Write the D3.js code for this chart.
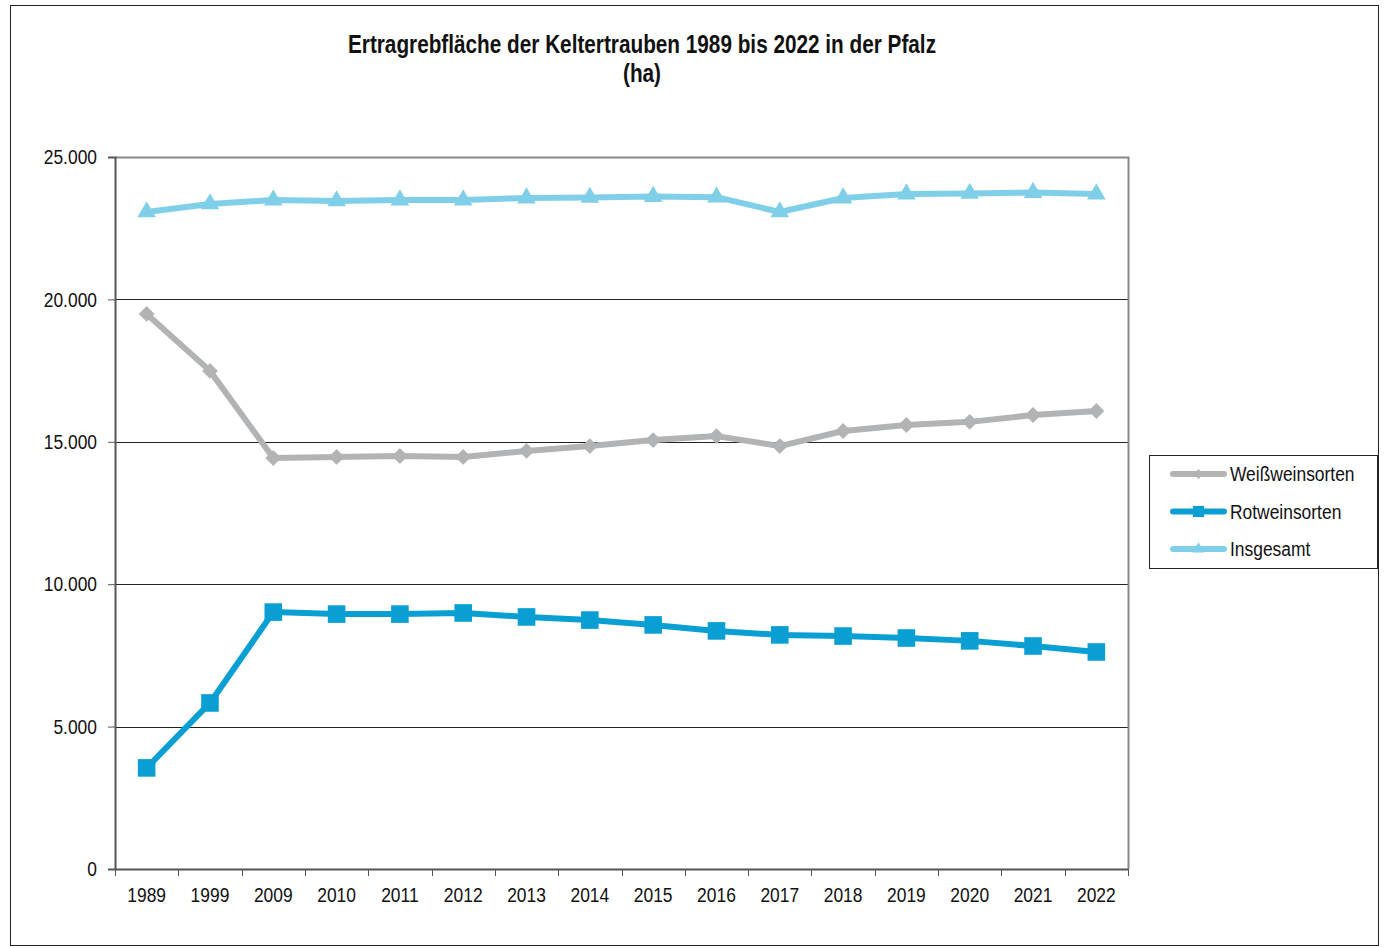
<!DOCTYPE html>
<html>
<head>
<meta charset="utf-8">
<script src="https://cdn.jsdelivr.net/npm/d3@7"></script>
<style>
  body { margin: 0; background: #fff; }
  svg { display: block; font-family: "Liberation Sans", Arial, sans-serif; }
</style>
</head>
<body>
<svg id="chart" width="1384" height="948"></svg>
<script>
const years = ['1989', '1999', '2009', '2010', '2011', '2012', '2013', '2014', '2015', '2016', '2017', '2018', '2019', '2020', '2021', '2022'];
const weiss = [19490, 17490, 14430, 14470, 14500, 14470, 14680, 14850, 15060, 15200, 14850, 15380, 15590, 15700, 15940, 16080];
const rot = [3550, 5830, 9020, 8950, 8950, 8990, 8850, 8740, 8570, 8360, 8220, 8180, 8110, 8010, 7830, 7620];
const gesamt = [23070, 23350, 23490, 23455, 23490, 23490, 23560, 23580, 23610, 23590, 23070, 23560, 23700, 23720, 23750, 23700];
const yTicks = [0, 5000, 10000, 15000, 20000, 25000];
const title = ['Ertragrebfläche der Keltertrauben 1989 bis 2022 in der Pfalz', '(ha)'];

const series = [
  { name: 'Weißweinsorten', values: weiss, color: '#b2b3b5', symbol: d3.symbolDiamond2, size: 160 },
  { name: 'Rotweinsorten', values: rot, color: '#0a9fd3', symbol: d3.symbolSquare, size: 310 },
  { name: 'Insgesamt', values: gesamt, color: '#80cfe8', symbol: d3.symbolTriangle, size: 150 }
];

const margin = { top: 157, left: 115, right: 256, bottom: 79 };
const W = 1384, H = 948;
const K = 0.83; // squeeze text horizontally, the original uses a narrow face
const svg = d3.select('#chart');

// squeeze a text selection around its own x position
function narrow(sel) {
  sel.each(function () {
    const t = d3.select(this);
    const x0 = +t.attr('x') || 0;
    t.attr('x', x0 / K).attr('transform', `scale(${K},1)`);
  });
}

svg.append('rect').attr('x', 10.5).attr('y', 5.5).attr('width', 1368).attr('height', 940)
  .attr('fill', 'none').attr('stroke', '#222').attr('stroke-width', 1);

svg.selectAll('text.title').data(title).join('text').attr('class', 'title')
  .attr('x', 642).attr('y', (d, i) => 53 + i * 29).attr('text-anchor', 'middle')
  .attr('font-size', 25).attr('font-weight', 'bold').attr('fill', '#111').text(d => d)
  .call(narrow);

const x = d3.scaleBand().domain(years).range([margin.left, W - margin.right]);
const y = d3.scaleLinear().domain([0, 25000]).range([H - margin.bottom, margin.top]);

const fmt = v => d3.format(',')(v).replace(/,/g, '.');

// gridlines
svg.append('g').selectAll('line').data(yTicks.filter(t => t > 0 && t < 25000)).join('line')
  .attr('x1', margin.left).attr('x2', W - margin.right)
  .attr('y1', d => Math.round(y(d)) + 0.5).attr('y2', d => Math.round(y(d)) + 0.5)
  .attr('stroke', '#222').attr('stroke-width', 1);

// plot border (top, right)
svg.append('path')
  .attr('d', `M${margin.left},${y(25000) + 0.5}H${W - margin.right + 0.5}V${y(0)}`)
  .attr('fill', 'none').attr('stroke', '#888').attr('stroke-width', 2);

// y axis
const yAxis = svg.append('g').attr('transform', `translate(${margin.left},0)`)
  .call(d3.axisLeft(y).tickValues(yTicks).tickFormat(fmt).tickSize(7).tickPadding(11));
yAxis.select('.domain').attr('stroke', '#555').attr('stroke-width', 2);
yAxis.selectAll('.tick line').attr('stroke', '#555');
yAxis.selectAll('text').attr('font-size', 21).attr('fill', '#111').attr('font-family', null).call(narrow);

// x axis, ticks sit on the band edges
const xg = svg.append('g').attr('transform', `translate(0,${y(0)})`)
  .call(d3.axisBottom(x).tickSize(0).tickPadding(18));
xg.select('.domain').attr('stroke', '#555').attr('stroke-width', 2);
xg.selectAll('text').attr('font-size', 21).attr('fill', '#111').attr('font-family', null).call(narrow);
const edges = years.map(d => x(d)).concat([x.range()[1]]);
xg.selectAll('.edge').data(edges).join('line').attr('class', 'edge')
  .attr('x1', d => Math.round(d) + 0.5).attr('x2', d => Math.round(d) + 0.5)
  .attr('y1', 0).attr('y2', 7).attr('stroke', '#555');

const line = d3.line().x((d, i) => x(years[i]) + x.bandwidth() / 2).y(d => y(d));

series.forEach(s => {
  const g = svg.append('g');
  g.append('path').datum(s.values).attr('d', line)
    .attr('fill', 'none').attr('stroke', s.color).attr('stroke-width', 6).attr('stroke-linejoin', 'round');
  g.selectAll('path.m').data(s.values).join('path').attr('class', 'm')
    .attr('transform', (d, i) => `translate(${x(years[i]) + x.bandwidth() / 2},${y(d)})`)
    .attr('d', d3.symbol().type(s.symbol).size(s.size)).attr('fill', s.color);
});

// legend
const lg = svg.append('g');
lg.append('rect').attr('x', 1149.5).attr('y', 455.5).attr('width', 228).attr('height', 113)
  .attr('fill', '#fff').attr('stroke', '#222');
series.forEach((s, i) => {
  const ly = 474 + i * 37.5;
  lg.append('line').attr('x1', 1173).attr('x2', 1224).attr('y1', ly).attr('y2', ly)
    .attr('stroke', s.color).attr('stroke-width', 6).attr('stroke-linecap', 'round');
  lg.append('path').attr('transform', `translate(1198.5,${ly})`)
    .attr('d', d3.symbol().type(s.symbol).size(s.size * 0.4)).attr('fill', s.color);
  lg.append('text').attr('x', 1230).attr('y', ly + 7.5).attr('font-size', 21).attr('fill', '#111')
    .text(s.name).call(narrow);
});
</script>
</body>
</html>
